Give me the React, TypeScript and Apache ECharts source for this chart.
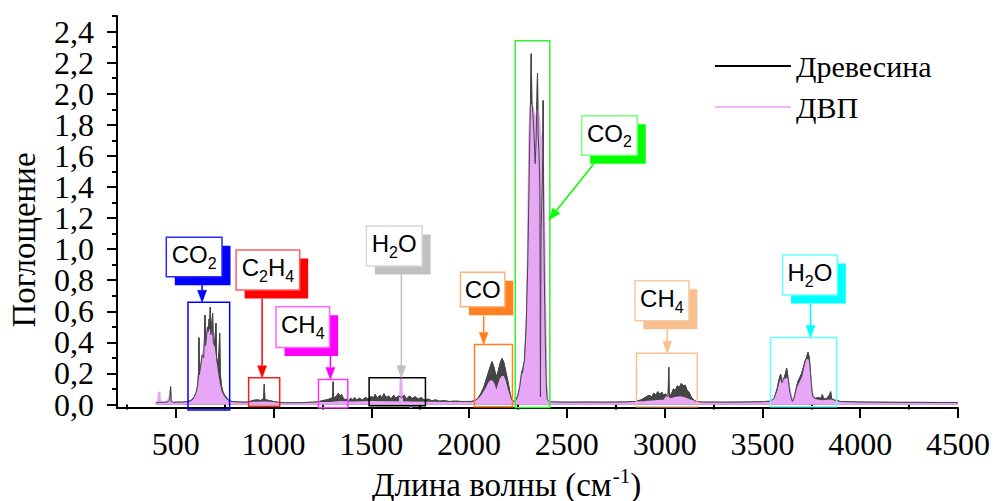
import React, { useEffect, useRef } from 'react';
import * as echarts from 'echarts';

// FTIR spectra of the pyrolysis gases: wood vs. fibreboard (ДВП)
const woodWavenumber = [
  400, 420, 440, 460, 470, 474, 477, 490, 510, 530, 550, 565, 580, 595, 605, 612, 617, 619, 621, 628,
  636, 643, 647, 650, 653, 658, 663, 667, 671, 674, 677, 680, 684, 689, 692, 698, 702, 706, 709, 714,
  719, 722, 725, 728, 734, 742, 750, 758, 768, 780, 800, 830, 860, 880, 900, 920, 935, 945, 950, 953,
  956, 965, 980, 1000, 1020, 1060, 1100, 1150, 1200, 1230, 1250, 1270, 1285, 1295, 1302, 1305, 1308, 1318, 1325, 1332,
  1340, 1348, 1356, 1365, 1375, 1385, 1395, 1405, 1415, 1425, 1440, 1455, 1470, 1485, 1500, 1510, 1520, 1530, 1545, 1555,
  1565, 1575, 1590, 1600, 1615, 1625, 1640, 1655, 1668, 1680, 1695, 1710, 1725, 1740, 1755, 1770, 1790, 1810, 1830, 1850,
  1870, 1900, 1930, 1960, 1990, 2010, 2030, 2045, 2060, 2075, 2090, 2100, 2110, 2117, 2125, 2135, 2143, 2150, 2160, 2169,
  2178, 2190, 2200, 2210, 2218, 2230, 2240, 2250, 2260, 2268, 2275, 2283, 2292, 2300, 2306, 2311, 2315, 2318, 2321, 2326,
  2332, 2338, 2343, 2347, 2350, 2353, 2358, 2362, 2365, 2368, 2373, 2377, 2379, 2381, 2385, 2390, 2395, 2400, 2410, 2450,
  2500, 2600, 2700, 2800, 2850, 2880, 2900, 2920, 2935, 2945, 2955, 2965, 2975, 2985, 2995, 3005, 3012, 3018, 3021, 3024,
  3035, 3045, 3055, 3065, 3075, 3085, 3095, 3105, 3115, 3125, 3135, 3148, 3160, 3200, 3300, 3400, 3500, 3540, 3560, 3575,
  3585, 3593, 3600, 3610, 3618, 3624, 3630, 3640, 3653, 3662, 3672, 3682, 3690, 3700, 3710, 3718, 3725, 3733, 3740, 3746,
  3752, 3758, 3770, 3785, 3800, 3806, 3812, 3825, 3835, 3842, 3849, 3853, 3865, 3880, 3900, 4000, 4100, 4200, 4300, 4400,
  4500,
];
const woodAbsorbance = [
  0.012, 0.015, 0.014, 0.018, 0.03, 0.115, 0.02, 0.014, 0.016, 0.015, 0.018, 0.02, 0.028, 0.05, 0.08, 0.12, 0.2, 0.43, 0.19, 0.25,
  0.32, 0.3, 0.42, 0.576, 0.38, 0.44, 0.5, 0.47, 0.55, 0.52, 0.626, 0.45, 0.5, 0.587, 0.4, 0.38, 0.44, 0.523, 0.3, 0.26,
  0.3, 0.35, 0.458, 0.2, 0.12, 0.08, 0.06, 0.05, 0.03, 0.022, 0.018, 0.016, 0.015, 0.02, 0.028, 0.03, 0.026, 0.035, 0.04, 0.13,
  0.03, 0.03, 0.025, 0.02, 0.015, 0.012, 0.012, 0.013, 0.015, 0.018, 0.025, 0.03, 0.035, 0.04, 0.045, 0.147, 0.04, 0.05, 0.06, 0.074,
  0.05, 0.065, 0.045, 0.03, 0.035, 0.025, 0.04, 0.03, 0.045, 0.03, 0.04, 0.03, 0.045, 0.035, 0.055, 0.04, 0.065, 0.04, 0.06, 0.04,
  0.07, 0.045, 0.055, 0.035, 0.06, 0.04, 0.055, 0.045, 0.06, 0.035, 0.055, 0.04, 0.05, 0.035, 0.045, 0.03, 0.035, 0.025, 0.03, 0.022,
  0.025, 0.02, 0.022, 0.02, 0.02, 0.02, 0.025, 0.04, 0.07, 0.11, 0.17, 0.21, 0.25, 0.276, 0.25, 0.2, 0.18, 0.22, 0.27, 0.297,
  0.27, 0.2, 0.14, 0.07, 0.03, 0.02, 0.03, 0.06, 0.12, 0.2, 0.23, 0.28, 0.5, 0.9, 1.35, 1.75, 2.0, 2.257, 1.95, 1.88,
  1.75, 1.55, 1.7, 1.95, 2.13, 1.75, 1.6, 1.4, 0.05, 1.1, 1.35, 1.6, 1.956, 1.3, 0.8, 0.4, 0.12, 0.03, 0.018, 0.016,
  0.015, 0.016, 0.015, 0.017, 0.02, 0.03, 0.045, 0.06, 0.05, 0.075, 0.06, 0.083, 0.065, 0.08, 0.06, 0.07, 0.05, 0.06, 0.24, 0.05,
  0.07, 0.1, 0.09, 0.12, 0.11, 0.136, 0.12, 0.125, 0.09, 0.08, 0.05, 0.03, 0.02, 0.016, 0.015, 0.016, 0.018, 0.02, 0.04, 0.1,
  0.16, 0.196, 0.14, 0.17, 0.2, 0.233, 0.18, 0.08, 0.02, 0.04, 0.1, 0.15, 0.17, 0.2, 0.24, 0.28, 0.3, 0.336, 0.3, 0.2,
  0.1, 0.05, 0.04, 0.045, 0.04, 0.065, 0.04, 0.035, 0.05, 0.06, 0.083, 0.04, 0.03, 0.025, 0.02, 0.016, 0.015, 0.014, 0.014, 0.013,
  0.013,
];

const fiberWavenumber = [
  396, 405, 412, 416, 419, 430, 445, 460, 470, 473, 476, 490, 510, 540, 560, 580, 595, 605, 615, 625,
  635, 645, 655, 665, 672, 680, 690, 700, 710, 720, 730, 742, 755, 770, 800, 850, 900, 950, 1000, 1100,
  1200, 1300, 1340, 1400, 1500, 1600, 1648, 1652, 1656, 1700, 1703, 1706, 1800, 1900, 2000, 2030, 2050, 2070, 2090, 2105,
  2115, 2125, 2135, 2143, 2152, 2162, 2172, 2182, 2192, 2205, 2215, 2230, 2242, 2255, 2265, 2272, 2280, 2290, 2298, 2305,
  2310, 2315, 2320, 2326, 2333, 2340, 2345, 2350, 2356, 2362, 2370, 2377, 2383, 2389, 2394, 2400, 2500, 2700, 2850, 2900,
  2950, 3000, 3016, 3020, 3050, 3080, 3100, 3130, 3160, 3300, 3500, 3560, 3580, 3595, 3606, 3615, 3627, 3635, 3645, 3652,
  3665, 3680, 3695, 3710, 3720, 3729, 3738, 3745, 3752, 3762, 3800, 3850, 3900, 4000, 4200, 4500,
];
const fiberAbsorbance = [
  0.008, 0.01, 0.02, 0.082, 0.015, 0.01, 0.012, 0.02, 0.05, 0.06, 0.015, 0.01, 0.008, 0.01, 0.012, 0.015, 0.03, 0.06, 0.11, 0.19,
  0.27, 0.36, 0.43, 0.47, 0.48, 0.46, 0.4, 0.31, 0.21, 0.13, 0.08, 0.05, 0.03, 0.018, 0.012, 0.01, 0.01, 0.012, 0.01, 0.008,
  0.008, 0.01, 0.015, 0.012, 0.015, 0.014, 0.015, 0.18, 0.015, 0.012, -0.02, 0.012, 0.01, 0.01, 0.01, 0.015, 0.03, 0.06, 0.1, 0.14,
  0.15, 0.13, 0.09, 0.08, 0.12, 0.16, 0.18, 0.15, 0.1, 0.05, 0.02, 0.015, 0.02, 0.05, 0.15, 0.2, 0.17, 0.3, 0.6, 1.3,
  1.75, 1.9, 1.93, 1.9, 1.85, 1.75, 1.85, 1.9, 1.85, 1.75, 1.7, 1.55, 1.2, 0.6, 0.15, 0.02, 0.01, 0.01, 0.012, 0.015,
  0.02, 0.025, 0.06, 0.03, 0.04, 0.045, 0.04, 0.025, 0.015, 0.012, 0.012, 0.03, 0.08, 0.15, 0.17, 0.14, 0.17, 0.12, 0.05, 0.03,
  0.05, 0.1, 0.14, 0.18, 0.24, 0.29, 0.25, 0.17, 0.08, 0.03, 0.02, 0.025, 0.012, 0.01, 0.01, 0.01,
];

const seriesNames = ['Древесина', 'ДВП'];

const xLabelValues = [500, 1000, 1500, 2000, 2500, 3000, 3500, 4000, 4500];
const xMinorValues = [250, 750, 1250, 1750, 2250, 2750, 3250, 3750, 4250];
const yLabelValues = [0, 0.2, 0.4, 0.6, 0.8, 1.0, 1.2, 1.4, 1.6, 1.8, 2.0, 2.2, 2.4];
const yMinorValues = [0.1, 0.3, 0.5, 0.7, 0.9, 1.1, 1.3, 1.5, 1.7, 1.9, 2.1, 2.3, 2.5];

// Frames around the absorption bands, in data units (cm-1, absorbance)
const bandFrames = [
  { x0: 563, x1: 776, y0: -0.035, y1: 0.658, color: '#0000ff' },
  { x0: 873, x1: 1032, y0: -0.01, y1: 0.172, color: '#ff1a1a' },
  { x0: 1230, x1: 1380, y0: -0.02, y1: 0.162, color: '#ff33ff' },
  { x0: 1489, x1: 1777, y0: -0.008, y1: 0.172, color: '#000000' },
  { x0: 2028, x1: 2222, y0: -0.014, y1: 0.387, color: '#ff8020' },
  { x0: 2236, x1: 2413, y0: -0.018, y1: 2.341, color: '#33f233' },
  { x0: 2856, x1: 3167, y0: -0.014, y1: 0.331, color: '#f8c090' },
  { x0: 3542, x1: 3879, y0: -0.014, y1: 0.432, color: '#66ffff' },
];

// Gas labels: box in data units, text parts (subscript flag), arrow start/end
const gasLabels = [
  { parts: [['CO', false], ['2', true]], x0: 452, x1: 737, y0: 0.822, y1: 1.076, border: '#2a2aff', shade: '#0000ff', from: [635, 0.769], to: [635, 0.658] },
  { parts: [['C', false], ['2', true], ['H', false], ['4', true]], x0: 809, x1: 1134, y0: 0.737, y1: 0.994, border: '#ff5c5c', shade: '#ff0000', from: [942, 0.683], to: [942, 0.172] },
  { parts: [['CH', false], ['4', true]], x0: 1013, x1: 1287, y0: 0.368, y1: 0.629, border: '#ff66ff', shade: '#ff00ff', from: [1291, 0.312], to: [1291, 0.162] },
  { parts: [['H', false], ['2', true], ['O', false]], x0: 1475, x1: 1760, y0: 0.891, y1: 1.149, border: '#d8d8d8', shade: '#c0c0c0', from: [1654, 0.838], to: [1654, 0.172] },
  { parts: [['CO', false]], x0: 1956, x1: 2183, y0: 0.629, y1: 0.851, border: '#ffb27a', shade: '#ff8020', from: [2075, 0.571], to: [2075, 0.387] },
  { parts: [['CO', false], ['2', true]], x0: 2576, x1: 2860, y0: 1.604, y1: 1.858, border: '#7aff7a', shade: '#00ff00', from: [2636, 1.546], to: [2408, 1.187] },
  { parts: [['CH', false], ['4', true]], x0: 2848, x1: 3124, y0: 0.539, y1: 0.797, border: '#f9caa4', shade: '#f8c090', from: [3013, 0.488], to: [3013, 0.331] },
  { parts: [['H', false], ['2', true], ['O', false]], x0: 3603, x1: 3883, y0: 0.705, y1: 0.962, border: '#66ffff', shade: '#00ffff', from: [3746, 0.651], to: [3746, 0.432] },
];

const SERIF = 'Liberation Serif';
const SANS = 'Liberation Sans';
const DARK = '#454545';
const PINK = '#e8a6f6';
const PINK_LEGEND = '#ebb8f8';

const X_MIN = 200;
const X_MAX = 4500;
const Y_MIN = -0.022;
const Y_MAX = 2.5;

const measureCtx = typeof document !== 'undefined' ? document.createElement('canvas').getContext('2d') : null;
function textWidth(text: string, size: number, family: string): number {
  if (!measureCtx) return text.length * size * 0.55;
  measureCtx.font = `${size}px "${family}"`;
  return measureCtx.measureText(text).width;
}

function arrow(x1: number, y1: number, x2: number, y2: number, color: string) {
  const dx = x2 - x1;
  const dy = y2 - y1;
  const len = Math.hypot(dx, dy) || 1;
  const ux = dx / len;
  const uy = dy / len;
  const headLen = 12;
  const headHalf = 4.5;
  const bx = x2 - ux * headLen;
  const by = y2 - uy * headLen;
  return [
    { type: 'line', z: 100, shape: { x1, y1, x2: bx, y2: by }, style: { stroke: color, lineWidth: 1.5 } },
    {
      type: 'polygon',
      z: 100,
      shape: { points: [[x2, y2], [bx - uy * headHalf, by + ux * headHalf], [bx + uy * headHalf, by - ux * headHalf]] },
      style: { fill: color, stroke: color, lineWidth: 0.5 },
    },
  ];
}

export default function App() {
  const ref = useRef<HTMLDivElement>(null);

  useEffect(() => {
    if (!ref.current) return;
    const chart = echarts.init(ref.current, null, { renderer: 'svg' });

    const woodData = woodWavenumber.map((w, i) => [w, woodAbsorbance[i]]);
    const fiberData = fiberWavenumber.map((w, i) => [w, fiberAbsorbance[i]]);

    // y labels are split over the two stacked left axes so neighbours never collide
    const yLabelsEven = yLabelValues.filter((_, i) => i % 2 === 0);
    const yLabelsOdd = yLabelValues.filter((_, i) => i % 2 === 1);

    const axisLine = { show: true, onZero: false, lineStyle: { color: '#000', width: 2 } };
    const tickStyle = { color: '#000', width: 2 };
    const tickFont = { fontFamily: SERIF, fontSize: 32, color: '#000', lineHeight: 24 };
    const yFormatter = (v: number) => v.toFixed(1).replace('.', ',');

    chart.setOption({
      animation: false,
      backgroundColor: '#ffffff',
      grid: { left: 117, right: 36, top: 16, bottom: 93, containLabel: false },
      legend: {
        data: seriesNames,
        orient: 'vertical',
        left: 710,
        top: 46,
        icon: 'rect',
        itemWidth: 76,
        itemHeight: 2,
        itemGap: 11,
        selectedMode: false,
        textStyle: { fontFamily: SERIF, fontSize: 30, color: '#000', lineHeight: 30, padding: [0, 0, 0, 0] },
      },
      xAxis: [
        {
          type: 'value',
          min: X_MIN,
          max: X_MAX,
          position: 'bottom',
          axisLine,
          splitLine: { show: false },
          axisTick: { show: true, inside: false, length: 10, customValues: xLabelValues, lineStyle: tickStyle },
          axisLabel: {
            ...tickFont,
            customValues: xLabelValues,
            margin: 24,
            showMinLabel: true,
            showMaxLabel: true,
            formatter: (v: number) => String(Math.round(v)),
          },
        },
        {
          type: 'value',
          min: X_MIN,
          max: X_MAX,
          position: 'bottom',
          offset: 0,
          axisLine: { show: false },
          splitLine: { show: false },
          axisLabel: { show: false },
          axisTick: { show: true, inside: false, length: 5, customValues: xMinorValues, lineStyle: tickStyle },
        },
      ],
      yAxis: [
        {
          type: 'value',
          min: Y_MIN,
          max: Y_MAX,
          position: 'left',
          axisLine,
          splitLine: { show: false },
          axisTick: { show: true, inside: false, length: 10, customValues: yLabelValues, lineStyle: tickStyle },
          axisLabel: {
            ...tickFont,
            customValues: yLabelsEven,
            margin: 23,
            showMinLabel: true,
            showMaxLabel: true,
            formatter: yFormatter,
          },
        },
        {
          type: 'value',
          min: Y_MIN,
          max: Y_MAX,
          position: 'left',
          offset: 0,
          axisLine: { show: false },
          splitLine: { show: false },
          axisTick: { show: true, inside: false, length: 5, customValues: yMinorValues, lineStyle: tickStyle },
          axisLabel: {
            ...tickFont,
            customValues: yLabelsOdd,
            margin: 23,
            showMinLabel: true,
            showMaxLabel: true,
            formatter: yFormatter,
          },
        },
      ],
      series: [
        {
          type: 'line',
          name: seriesNames[0],
          data: woodData,
          xAxisIndex: 0,
          yAxisIndex: 0,
          symbol: 'none',
          lineStyle: { color: DARK, width: 1 },
          itemStyle: { color: '#000' },
          areaStyle: { color: DARK, opacity: 1 },
          z: 2,
        },
        {
          type: 'line',
          name: seriesNames[1],
          data: fiberData,
          xAxisIndex: 0,
          yAxisIndex: 0,
          symbol: 'none',
          lineStyle: { color: PINK, width: 2.5 },
          itemStyle: { color: PINK_LEGEND },
          areaStyle: { color: PINK, opacity: 1 },
          z: 3,
        },
        {
          // thin outline of the wood spectrum drawn over the fibreboard fill
          type: 'line',
          id: 'wood-outline',
          data: woodData,
          xAxisIndex: 0,
          yAxisIndex: 0,
          symbol: 'none',
          silent: true,
          lineStyle: { color: DARK, width: 1 },
          z: 4,
        },
      ],
    });

    const toPx = (x: number, y: number) => chart.convertToPixel({ seriesIndex: 0 }, [x, y]) as number[];

    const elements: any[] = [];

    bandFrames.forEach((f) => {
      const [ax, ay] = toPx(f.x0, f.y1);
      const [bx, by] = toPx(f.x1, f.y0);
      elements.push({
        type: 'rect',
        z: 100,
        shape: { x: ax, y: ay, width: bx - ax, height: by - ay },
        style: { fill: 'none', stroke: f.color, lineWidth: 1.5 },
      });
    });

    const MAIN = 24;
    const SUB = 16;
    gasLabels.forEach((g) => {
      const [ax, ay] = toPx(g.x0, g.y1);
      const [bx, by] = toPx(g.x1, g.y0);
      const w = bx - ax;
      const h = by - ay;
      const shift = 8.5;
      elements.push({
        type: 'rect',
        z: 100,
        shape: { x: ax + shift, y: ay + shift, width: w, height: h },
        style: { fill: g.shade, stroke: 'none' },
      });
      elements.push({
        type: 'rect',
        z: 101,
        shape: { x: ax, y: ay, width: w, height: h },
        style: { fill: '#ffffff', stroke: g.border, lineWidth: 1.5 },
      });
      const hasSub = g.parts.some((p) => p[1]);
      const widths = g.parts.map((p) => textWidth(p[0] as string, p[1] ? SUB : MAIN, SANS));
      const total = widths.reduce((s, v) => s + v, 0);
      const cy = ay + h / 2;
      const baseline = cy + 0.716 * MAIN / 2 - (hasSub ? 2.7 : 0);
      let cx = ax + w / 2 - total / 2;
      g.parts.forEach((p, i) => {
        const isSub = p[1] as boolean;
        const size = isSub ? SUB : MAIN;
        const bl = isSub ? baseline + 6 : baseline;
        elements.push({
          type: 'text',
          z: 102,
          x: cx,
          y: bl - 0.3465 * size,
          style: { text: p[0], fontFamily: SANS, fontSize: size, fill: '#000', align: 'left', verticalAlign: 'middle' },
        });
        cx += widths[i];
      });
      const [fx, fy] = toPx(g.from[0], g.from[1]);
      const [tx, ty] = toPx(g.to[0], g.to[1]);
      elements.push(...arrow(fx, fy, tx, ty, g.shade));
    });

    // axis titles
    elements.push({
      type: 'text',
      z: 50,
      x: 24,
      y: 240,
      rotation: Math.PI / 2,
      style: { text: 'Поглощение', fontFamily: SERIF, fontSize: 33, fill: '#000', align: 'center', verticalAlign: 'middle' },
    });
    const TITLE = 33;
    const SUP = 21;
    const titleMain = 'Длина волны (см';
    const titleBaseline = 496;
    const tx0 = 372;
    const wMain = textWidth(titleMain, TITLE, SERIF);
    const wSup = textWidth('-1', SUP, SERIF);
    elements.push({
      type: 'text', z: 50, x: tx0, y: titleBaseline - 0.3375 * TITLE,
      style: { text: titleMain, fontFamily: SERIF, fontSize: TITLE, fill: '#000', align: 'left', verticalAlign: 'middle' },
    });
    elements.push({
      type: 'text', z: 50, x: tx0 + wMain + 1, y: 483 - 0.3375 * SUP,
      style: { text: '-1', fontFamily: SERIF, fontSize: SUP, fill: '#000', align: 'left', verticalAlign: 'middle' },
    });
    elements.push({
      type: 'text', z: 50, x: tx0 + wMain + 1 + wSup, y: titleBaseline - 0.3375 * TITLE,
      style: { text: ')', fontFamily: SERIF, fontSize: TITLE, fill: '#000', align: 'left', verticalAlign: 'middle' },
    });

    chart.setOption({ graphic: { elements } });

    return () => chart.dispose();
  }, []);

  return (
    <div
      ref={ref}
      style={{ position: 'fixed', left: 0, top: 0, width: 994, height: 501, background: '#fff' }}
    />
  );
}
